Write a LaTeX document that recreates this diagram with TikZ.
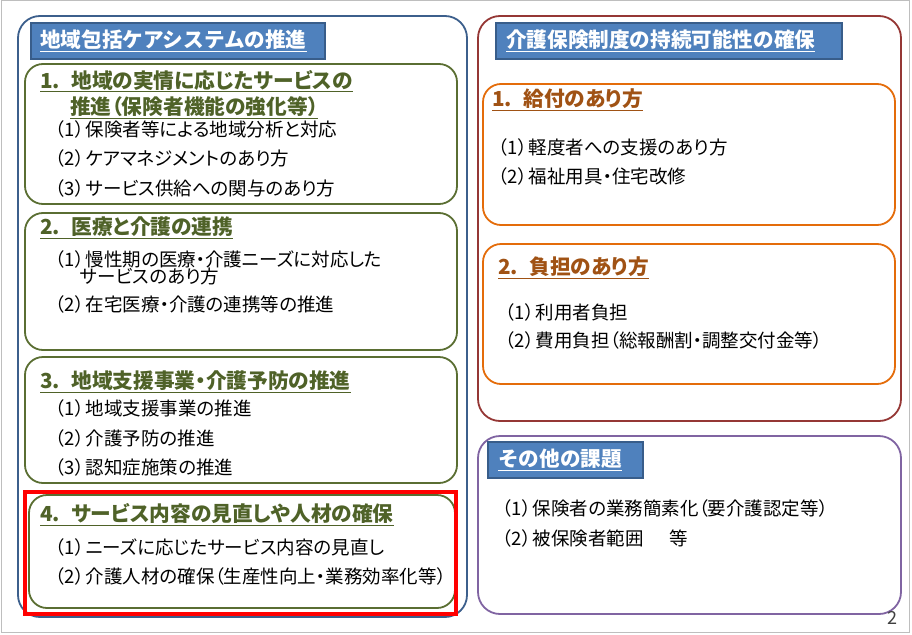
\documentclass[tikz,border=0pt]{standalone}
\usepackage{fontspec}
\setmainfont{Noto Sans CJK JP}
\newfontfamily\pfont{Noto Sans CJK JP}[RawFeature=+palt]
\definecolor{blueframe}{RGB}{60,95,140}
\definecolor{titlefill}{RGB}{79,129,189}
\definecolor{titleborder}{RGB}{56,93,138}
\definecolor{olive}{RGB}{79,98,40}
\definecolor{oliveframe}{RGB}{90,110,50}
\definecolor{redbrown}{RGB}{149,55,53}
\definecolor{orangeframe}{RGB}{228,108,10}
\definecolor{orangetext}{RGB}{160,82,20}
\definecolor{purpleframe}{RGB}{128,100,162}
\definecolor{pagegray}{RGB}{190,190,190}
\tikzset{
  frame/.style={line width=1.8pt, rounded corners=22pt},
  subframe/.style={line width=1.8pt, rounded corners=18pt},
  headbox/.style={draw=titleborder, line width=2pt, fill=titlefill},
  headtext/.style={anchor=west, inner sep=0pt, text=white, font=\fontsize{20.6}{22}\selectfont\bfseries},
  subtitle/.style={anchor=west, inner sep=0pt, font=\pfont\fontsize{20.7}{22}\selectfont\bfseries},
  item/.style={anchor=west, inner sep=0pt, font=\pfont\fontsize{18.5}{20}\selectfont},
}
\newcommand{\ul}[1]{\underline{#1}}
\newcommand{\itm}[1]{（#1）\hspace{0.1em}}
\newcommand{\num}[1]{#1.\hspace{0.55em}}
\begin{document}
\begin{tikzpicture}[x=1pt,y=-1pt]
\useasboundingbox (0,0) rectangle (912,634);
\draw[pagegray, line width=1pt] (1,1) rectangle (909,632);

% ---------- left panel ----------
\draw[frame, draw=blueframe] (18,16) rectangle (467,617);
\draw[headbox] (31,23) rectangle (325,59);
\node[headtext] (lt) at (40,41) {\ul{地域包括ケアシステムの推進}};

% box 1
\draw[subframe, draw=oliveframe] (25,64) rectangle (457,204);
\node[subtitle, text=olive] (b1t1) at (40,81) {\ul{\num{1}地域の実情に応じたサービスの}};
\node[subtitle, text=olive] (b1t2) at (70,108) {\ul{推進（保険者機能の強化等）}};
\node[item] (b1i1) at (55,129) {\itm{1}保険者等による地域分析と対応};
\node[item] (b1i2) at (55,158) {\itm{2}ケアマネジメントのあり方};
\node[item] (b1i3) at (55,188) {\itm{3}サービス供給への関与のあり方};

% box 2
\draw[subframe, draw=oliveframe] (25,213) rectangle (457,350);
\node[subtitle, text=olive] (b2t) at (40,228) {\ul{\num{2}医療と介護の連携}};
\node[item] (b2i1) at (55,259) {\itm{1}慢性期の医療・介護ニーズに対応した};
\node[item] (b2i1b) at (80,276) {サービスのあり方};
\node[item] (b2i2) at (55,304) {\itm{2}在宅医療・介護の連携等の推進};

% box 3
\draw[subframe, draw=oliveframe] (25,357) rectangle (457,483);
\node[subtitle, text=olive] (b3t) at (40,382) {\ul{\num{3}地域支援事業・介護予防の推進}};
\node[item] (b3i1) at (55,408) {\itm{1}地域支援事業の推進};
\node[item] (b3i2) at (55,438) {\itm{2}介護予防の推進};
\node[item] (b3i3) at (55,467) {\itm{3}認知症施策の推進};

% box 4
\draw[subframe, draw=oliveframe] (29,495) rectangle (455,608);
\draw[red, line width=3.5pt] (25,492) rectangle (456,614);
\node[subtitle, text=olive] (b4t) at (40,515) {\ul{\num{4}サービス内容の見直しや人材の確保}};
\node[item] (b4i1) at (55,547) {\itm{1}ニーズに応じたサービス内容の見直し};
\node[item] (b4i2) at (55,576) {\itm{2}介護人材の確保（生産性向上・業務効率化等）};

% ---------- right upper panel ----------
\draw[frame, draw=redbrown] (478,16) rectangle (901,421);
\draw[headbox] (496,23) rectangle (842,59);
\node[headtext] (rt) at (506,41) {\ul{介護保険制度の持続可能性の確保}};

\draw[subframe, draw=orangeframe] (483,84) rectangle (895,225);
\node[subtitle, text=orangetext] (o1t) at (492,100) {\ul{\num{1}給付のあり方}};
\node[item] (o1i1) at (498,147) {\itm{1}軽度者への支援のあり方};
\node[item] (o1i2) at (498,176) {\itm{2}福祉用具・住宅改修};

\draw[subframe, draw=orangeframe] (483,244) rectangle (895,384);
\node[subtitle, text=orangetext] (o2t) at (498,268) {\ul{\num{2}負担のあり方}};
\node[item] (o2i1) at (505,312) {\itm{1}利用者負担};
\node[item] (o2i2) at (505,340) {\itm{2}費用負担（総報酬割・調整交付金等）};

% ---------- right lower panel ----------
\draw[frame, draw=purpleframe] (478,436) rectangle (901,614);
\draw[headbox] (488,442) rectangle (643,478);
\node[headtext] (pt) at (498,460) {\ul{その他の課題}};
\node[item] (p1) at (502,508) {\itm{1}保険者の業務簡素化（要介護認定等）};
\node[item] (p2) at (502,538) {\itm{2}被保険者範囲\hspace{1.4em}等};

\node[anchor=center, inner sep=0pt, text=black!75, font=\fontsize{18}{20}\selectfont] (pg) at (892,618) {2};
\end{tikzpicture}
\end{document}
